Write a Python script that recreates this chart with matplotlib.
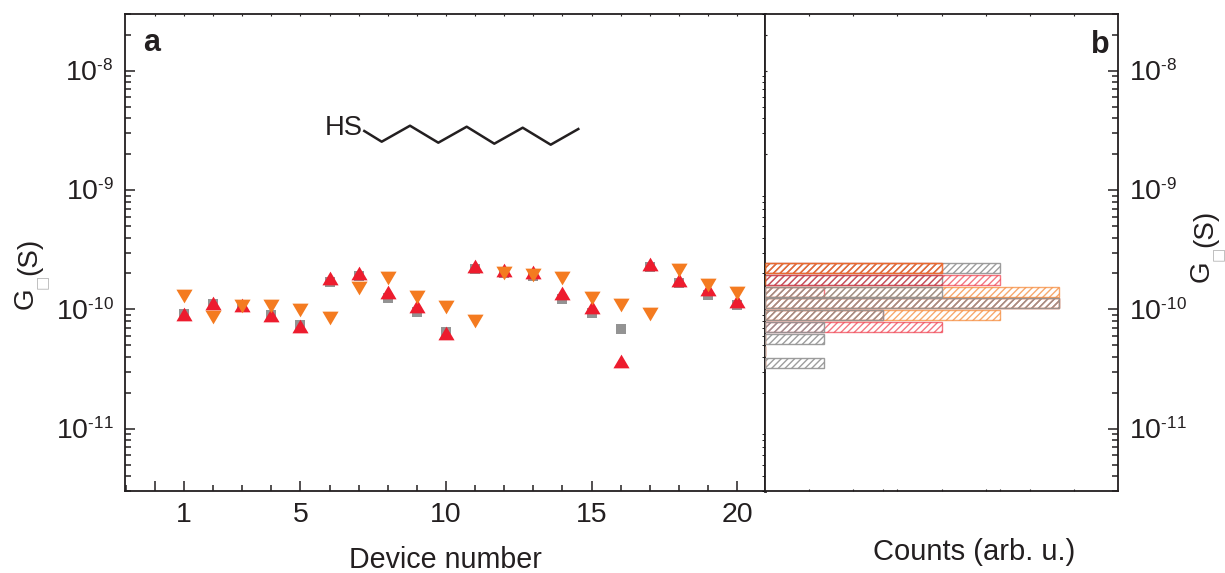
import numpy as np
import matplotlib
matplotlib.use("Agg")
import matplotlib.pyplot as plt
import matplotlib._mathtext as mathtext_internals
from matplotlib.lines import Line2D
from matplotlib.ticker import FixedLocator, NullFormatter, LogLocator, FixedFormatter

plt.rcParams['font.family'] = ['Liberation Sans', 'DejaVu Sans']
plt.rcParams['mathtext.fontset'] = 'custom'
plt.rcParams['mathtext.rm'] = 'Liberation Sans'
plt.rcParams['mathtext.it'] = 'Liberation Sans'
plt.rcParams['mathtext.bf'] = 'Liberation Sans:bold'
plt.rcParams['hatch.linewidth'] = 1.0
# exponents are smaller in the reference than mathtext's default
mathtext_internals.SHRINK_FACTOR = 0.6

# device data
devices = np.arange(1, 21)
gray_g = np.array([.91, 1.12, 1.05, .895, .74, 1.70, 1.91, 1.24, .95, .65,
                   2.19, 2.03, 1.90, 1.22, .94, .68, 2.25, 1.66, 1.33, 1.09]) * 1e-10
red_g = np.array([.91, 1.135, 1.09, .895, .72, 1.82, 2.0, 1.40, 1.06, .637,
                  2.31, 2.15, 2.04, 1.37, 1.04, .366, 2.40, 1.78, 1.47, 1.17]) * 1e-10
orange_g = np.array([1.29, .862, 1.06, 1.06, .98, .85, 1.52, 1.84, 1.27, 1.05,
                     .80, 2.0, 1.93, 1.84, 1.25, 1.09, .91, 2.13, 1.61, 1.38]) * 1e-10

# histogram bins (log10 of G) and counts
bin_low = np.array([-10.5, -10.4, -10.3, -10.2, -10.1, -10.0, -9.9, -9.8, -9.7])
gray_counts = [1, 0, 1, 1, 2, 5, 3, 3, 4]
red_counts = [0, 0, 0, 3, 2, 5, 1, 4, 3]
orange_counts = [0, 0, 0, 0, 4, 5, 5, 0, 3]

ytick_vals = [1e-11, 1e-10, 1e-9, 1e-8]
ytick_labels = [r'$\mathregular{10^{\text{-}11}}$', r'$\mathregular{10^{\text{-}10}}$',
                r'$\mathregular{10^{\text{-}9}}$', r'$\mathregular{10^{\text{-}8}}$']
GRAY, RED, ORANGE = '#939393', '#ed1c2e', '#f47b20'
INK = '#231f20'
W, H = 1225, 573

up_tri = [(-1, -.85), (1, -.85), (0, .85)]
down_tri = [(-1, .85), (1, .85), (0, -.85)]


def fx(x):
    return x / W


def fy(y):
    return 1 - y / H


def style_axis(ax):
    for s in ax.spines.values():
        s.set_linewidth(1.3)
        s.set_color(INK)
    ax.set_yscale('log')
    ax.set_ylim(3e-12, 3e-8)
    ax.yaxis.set_major_locator(FixedLocator(ytick_vals))
    ax.yaxis.set_minor_locator(LogLocator(base=10, subs=np.arange(2, 10), numticks=12))
    ax.yaxis.set_minor_formatter(NullFormatter())
    ax.tick_params(which='major', direction='in', length=7, width=1.1, color=INK, labelcolor=INK, labelsize=20.5)
    ax.tick_params(which='minor', direction='in', length=4, width=1.1, color=INK)


def tiny_ticks(sec, locs):
    for s in sec.spines.values():
        s.set_visible(False)
    sec.set_ticks(locs)
    sec.tick_params(direction='in', length=1.5, width=0.8, color=INK, labelleft=False, labelright=False,
                    labeltop=False, labelbottom=False)


fig = plt.figure(figsize=(W / 100, H / 100), dpi=100)
ax1 = fig.add_axes([fx(125), fy(491), 640 / W, 477 / H])
ax2 = fig.add_axes([fx(765), fy(491), 353 / W, 477 / H])
style_axis(ax1)
style_axis(ax2)
ax1.spines['right'].set_linewidth(2.0)

# panel a
ax1.scatter(devices, gray_g, marker='s', s=60, color=GRAY, linewidths=0, zorder=2)
ax1.scatter(devices, red_g, marker=up_tri, s=135, color=RED, linewidths=0, zorder=3)
ax1.scatter(devices, orange_g, marker=down_tri, s=135, color=ORANGE, linewidths=0, zorder=4)
ax1.set_xlim(-1.03, 20.96)
ax1.xaxis.set_major_locator(FixedLocator([0, 1, 5, 10, 15, 20]))
ax1.xaxis.set_major_formatter(FixedFormatter(['', '1', '5', '10', '15', '20']))
ax1.xaxis.set_minor_locator(FixedLocator(np.arange(-1, 21)))
ax1.tick_params(axis='x', which='major', pad=8)
ax1.tick_params(axis='y', which='major', pad=8)
ax1.set_yticks(ytick_vals)
ax1.set_yticklabels(ytick_labels)
ax1.xaxis.set_ticks_position('bottom')
ax1.yaxis.set_ticks_position('left')
fig.text(fx(152), fy(43), 'a', ha='center', va='center', fontsize=22, fontweight='bold', color=INK)
tiny_ticks(ax1.secondary_xaxis('top'), np.arange(0, 21))

# panel b: gray sits on top, except in the two highest bins
bottoms = 10.0 ** (bin_low + 0.008)
tops = 10.0 ** (bin_low + 0.092)
ax2.set_xlim(0, 6)
for counts, col, alpha, z in [(red_counts, RED, 0.6, 2), (orange_counts, ORANGE, 0.65, 3), (gray_counts, GRAY, 0.9, 4)]:
    bars = ax2.barh(bottoms, counts, height=tops - bottoms, align='edge', facecolor='none',
                    edgecolor=col, hatch='/////', linewidth=1.0, alpha=alpha, zorder=z)
    if col == GRAY:
        bars[7].set_zorder(1)
        bars[8].set_zorder(1)
ax2.xaxis.set_major_locator(FixedLocator(np.arange(0.75, 6, 0.75)))
ax2.xaxis.set_major_formatter(NullFormatter())
ax2.xaxis.set_minor_locator(FixedLocator([2, 4]))
ax2.tick_params(axis='x', which='both', length=1.5, width=0.8)
ax2.yaxis.tick_right()
ax2.tick_params(axis='y', which='major', labelleft=False, labelright=True, pad=8)
ax2.set_yticks(ytick_vals)
ax2.set_yticklabels(ytick_labels)
tiny_ticks(ax2.secondary_xaxis('top'), np.arange(0.75, 6, 0.75))
tiny_ticks(ax2.secondary_yaxis('left'), [2e-9, 1e-8, 2e-8])

fig.text(fx(1100), fy(45), 'b', ha='center', va='center', fontsize=22, fontweight='bold', color=INK)

# axis labels
fig.text(fx(445), fy(559.5), 'Device number', ha='center', va='center', fontsize=20.6, color=INK)
fig.text(fx(974), fy(552), 'Counts (arb. u.)', ha='center', va='center', fontsize=21, color=INK)
for gx, gy, bx, by, sx, sy in [(26, 298, 42, 282, 29, 256), (1202, 271, 1218, 254, 1205, 228)]:
    fig.text(fx(gx), fy(gy), 'G', rotation=90, ha='center', va='center', fontsize=20, color=INK)
    fig.text(fx(bx), fy(by), '\u25a1', rotation=90, ha='center', va='center', fontsize=11,
             color='#b5b5b5', family='DejaVu Sans')
    fig.text(fx(sx), fy(sy), '(S)', rotation=90, ha='center', va='center', fontsize=20, color=INK)

# molecule sketch
chain_x = [364.3, 381.7, 410, 438.3, 466.7, 494.3, 522.7, 550.7, 578.3]
chain_y = [131, 141.7, 125.7, 142.7, 126.7, 143.7, 127.7, 144.7, 129]
fig.add_artist(Line2D([fx(v) for v in chain_x], [fy(v) for v in chain_y], color=INK, lw=1.8))
fig.text(fx(344), fy(128), 'HS', ha='center', va='center', fontsize=19.7, color=INK)

fig.savefig('out.png', dpi=100)
